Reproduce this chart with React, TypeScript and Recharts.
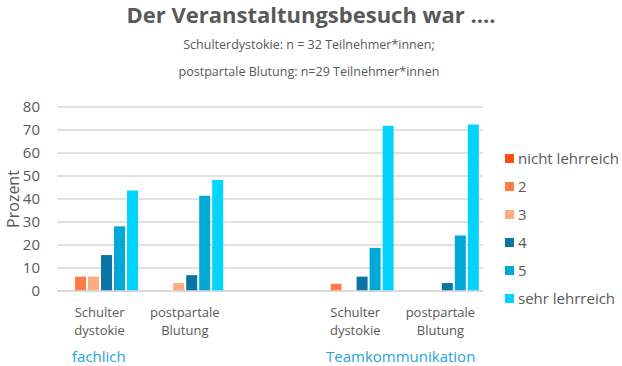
import React from 'react';
import { BarChart, Bar, XAxis, YAxis, CartesianGrid, Legend } from 'recharts';

// categories (third slot is the empty gap between the two groups)
const categories = ['Schulter|dystokie', 'postpartale|Blutung', '', 'Schulter|dystokie', 'postpartale|Blutung'];

// percent values per rating
const nichtLehrreich = [0, 0, null, 0, 0];
const stufe2 = [6.25, 0, null, 3.13, 0];
const stufe3 = [6.25, 3.45, null, 0, 0];
const stufe4 = [15.63, 6.9, null, 6.25, 3.45];
const stufe5 = [28.13, 41.38, null, 18.75, 24.14];
const sehrLehrreich = [43.75, 48.28, null, 71.88, 72.41];

const yTicks = [0, 10, 20, 30, 40, 50, 60, 70, 80];

const seriesNames = ['nicht lehrreich', '2', '3', '4', '5', 'sehr lehrreich'];
const seriesColors = ['#FF4D0A', '#FF7D45', '#FFAB80', '#0B74A6', '#00A9D6', '#00D4FF'];
const seriesValues = [nichtLehrreich, stufe2, stufe3, stufe4, stufe5, sehrLehrreich];

const data = categories.map((c, i) => {
  const row: any = { name: c, idx: i };
  seriesNames.forEach((s, k) => {
    row[s] = seriesValues[k][i];
  });
  return row;
});

const FONT = '"Open Sans", sans-serif';
const GRAY = '#595959';

const CategoryTick = (props: any) => {
  const { x, y, payload } = props;
  const label = categories[payload.value] || '';
  if (!label) return null;
  const lines = label.split('|');
  return (
    <g transform={`translate(${x},${y})`}>
      {lines.map((l: string, i: number) => (
        <text key={i} x={0} y={18 + i * 18} textAnchor="middle" fill={GRAY} fontSize={13} fontFamily={FONT}>
          {l}
        </text>
      ))}
    </g>
  );
};

const LegendContent = () => (
  <div style={{ fontFamily: FONT, color: GRAY }}>
    {seriesNames.map((s, i) => (
      <div key={s} style={{ display: 'flex', alignItems: 'center', height: 28 }}>
        <span style={{ width: 9, height: 9, background: seriesColors[i], marginRight: 4, display: 'inline-block' }} />
        <span style={{ fontSize: 15 }}>{s}</span>
      </div>
    ))}
  </div>
);

export default function App() {
  return (
    <div style={{ position: 'absolute', left: 0, top: 0, width: 622, height: 366, background: '#fff', fontFamily: FONT }}>
      <div style={{ position: 'absolute', left: 0, width: 622, top: -1, fontSize: 22, fontWeight: 700, color: GRAY, textAlign: 'center' }}>
        Der Veranstaltungsbesuch war ....
      </div>
      <div style={{ position: 'absolute', left: 0, width: 618, top: 36, fontSize: 12.5, color: GRAY, textAlign: 'center' }}>
        Schulterdystokie: n = 32 Teilnehmer*innen;
      </div>
      <div style={{ position: 'absolute', left: 0, width: 618, top: 63, fontSize: 12.5, color: GRAY, textAlign: 'center' }}>
        postpartale Blutung: n=29 Teilnehmer*innen
      </div>
      <div
        style={{
          position: 'absolute',
          left: 13,
          top: 199,
          transform: 'translate(-50%, -50%) rotate(-90deg)',
          fontSize: 16,
          color: GRAY,
          whiteSpace: 'nowrap',
        }}
      >
        Prozent
      </div>
      <BarChart
        width={622}
        height={366}
        data={data}
        margin={{ top: 107, right: 139, bottom: 0, left: 0 }}
        barCategoryGap={5}
        barGap={2}
      >
        <CartesianGrid vertical={false} stroke="#D9D9D9" strokeWidth={1.5} />
        <XAxis
          dataKey="idx"
          type="category"
          tick={<CategoryTick />}
          tickLine={false}
          axisLine={{ stroke: '#D9D9D9', strokeWidth: 1.5 }}
          interval={0}
          height={75}
        />
        <YAxis
          width={57}
          domain={[0, 80]}
          ticks={yTicks}
          interval={0}
          tickLine={false}
          axisLine={false}
          tickSize={0}
          tickMargin={17}
          tick={{ fill: GRAY, fontSize: 15, fontFamily: FONT }}
        />
        <Legend
          layout="vertical"
          align="center"
          verticalAlign="middle"
          content={<LegendContent />}
          wrapperStyle={{ left: 505, top: 144, width: 117 }}
        />
        {seriesNames.map((s, i) => (
          <Bar key={s} dataKey={s} fill={seriesColors[i]} isAnimationActive={false} />
        ))}
      </BarChart>
      <div style={{ position: 'absolute', left: 72, top: 346, fontSize: 15, color: '#1FA3E0' }}>fachlich</div>
      <div style={{ position: 'absolute', left: 326, top: 346, fontSize: 15, color: '#1FA3E0' }}>Teamkommunikation</div>
    </div>
  );
}
